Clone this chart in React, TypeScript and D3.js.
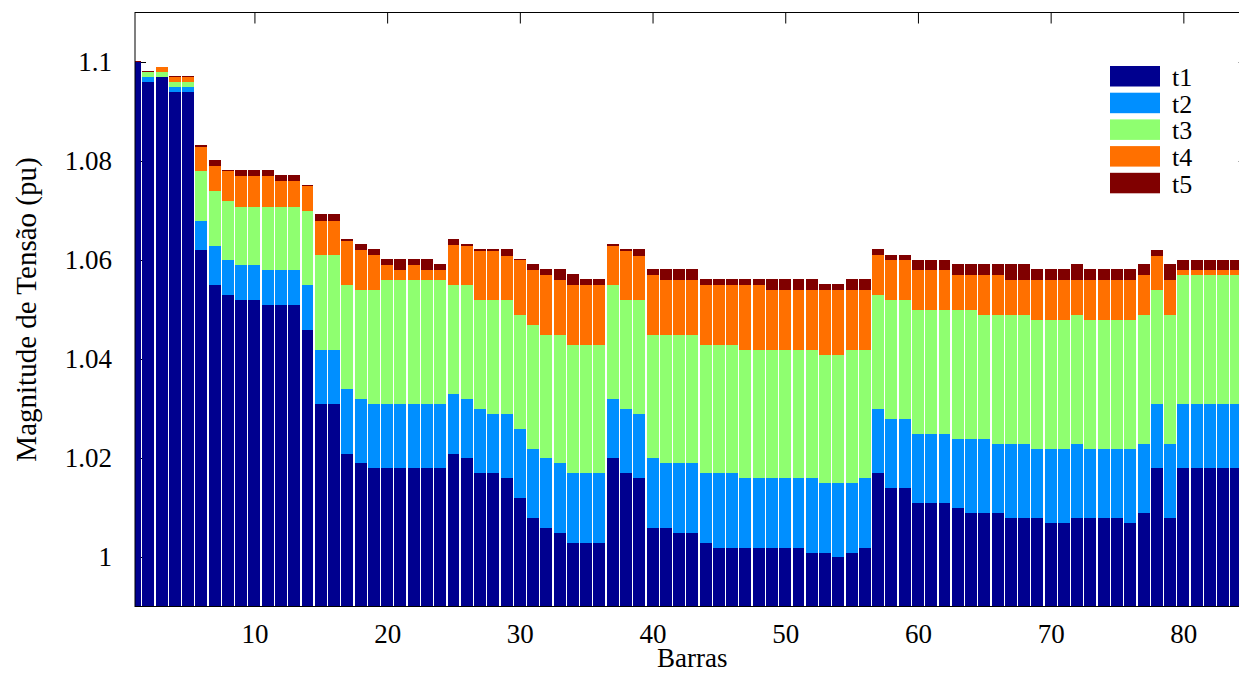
import React, { useEffect, useRef } from 'react';
import * as d3 from 'd3';

// tensões por barra (pu), uma lista por instante
const t1 = [
  1.1000, 1.0959, 1.0969, 1.0939, 1.0939, 1.0620, 1.0550, 1.0530, 1.0519, 1.0519,
  1.0509, 1.0509, 1.0509, 1.0459, 1.0310, 1.0310, 1.0209, 1.0189, 1.0179, 1.0179,
  1.0179, 1.0179, 1.0179, 1.0179, 1.0209, 1.0199, 1.0169, 1.0169, 1.0159, 1.0119,
  1.0079, 1.0059, 1.0049, 1.0028, 1.0028, 1.0028, 1.0199, 1.0169, 1.0159, 1.0059,
  1.0059, 1.0049, 1.0049, 1.0028, 1.0019, 1.0019, 1.0019, 1.0019, 1.0019, 1.0019,
  1.0019, 1.0009, 1.0009, 0.9999, 1.0009, 1.0019, 1.0169, 1.0139, 1.0139, 1.0109,
  1.0109, 1.0109, 1.0099, 1.0089, 1.0089, 1.0089, 1.0079, 1.0079, 1.0079, 1.0069,
  1.0069, 1.0079, 1.0079, 1.0079, 1.0079, 1.0069, 1.0089, 1.0179, 1.0079, 1.0179,
  1.0179, 1.0179, 1.0179, 1.0179,
];
const t2 = [
  1.1000, 1.0969, 1.0969, 1.0949, 1.0949, 1.0679, 1.0629, 1.0600, 1.0590, 1.0590,
  1.0580, 1.0580, 1.0580, 1.0549, 1.0418, 1.0418, 1.0339, 1.0319, 1.0310, 1.0310,
  1.0310, 1.0310, 1.0310, 1.0310, 1.0329, 1.0319, 1.0299, 1.0289, 1.0289, 1.0259,
  1.0219, 1.0199, 1.0189, 1.0169, 1.0169, 1.0169, 1.0319, 1.0299, 1.0289, 1.0199,
  1.0189, 1.0189, 1.0189, 1.0169, 1.0169, 1.0169, 1.0159, 1.0159, 1.0159, 1.0159,
  1.0159, 1.0159, 1.0149, 1.0149, 1.0149, 1.0159, 1.0299, 1.0279, 1.0279, 1.0249,
  1.0249, 1.0249, 1.0239, 1.0239, 1.0239, 1.0229, 1.0229, 1.0229, 1.0219, 1.0219,
  1.0219, 1.0229, 1.0219, 1.0219, 1.0219, 1.0219, 1.0229, 1.0310, 1.0229, 1.0310,
  1.0310, 1.0310, 1.0310, 1.0310,
];
const t3 = [
  1.1000, 1.0979, 1.0979, 1.0959, 1.0959, 1.0779, 1.0740, 1.0719, 1.0708, 1.0708,
  1.0708, 1.0708, 1.0708, 1.0700, 1.0610, 1.0610, 1.0549, 1.0539, 1.0539, 1.0560,
  1.0560, 1.0560, 1.0560, 1.0560, 1.0549, 1.0549, 1.0519, 1.0519, 1.0519, 1.0489,
  1.0469, 1.0448, 1.0448, 1.0429, 1.0429, 1.0429, 1.0549, 1.0519, 1.0519, 1.0448,
  1.0448, 1.0448, 1.0448, 1.0429, 1.0429, 1.0429, 1.0419, 1.0419, 1.0419, 1.0419,
  1.0419, 1.0419, 1.0409, 1.0409, 1.0419, 1.0419, 1.0529, 1.0519, 1.0519, 1.0499,
  1.0499, 1.0499, 1.0499, 1.0499, 1.0489, 1.0489, 1.0489, 1.0489, 1.0479, 1.0479,
  1.0479, 1.0489, 1.0479, 1.0479, 1.0479, 1.0479, 1.0489, 1.0539, 1.0489, 1.0570,
  1.0570, 1.0570, 1.0570, 1.0570,
];
const t4 = [
  1.1000, 1.0980, 1.0989, 1.0969, 1.0969, 1.0829, 1.0789, 1.0779, 1.0769, 1.0769,
  1.0769, 1.0760, 1.0760, 1.0749, 1.0679, 1.0679, 1.0638, 1.0620, 1.0610, 1.0590,
  1.0580, 1.0590, 1.0580, 1.0580, 1.0630, 1.0628, 1.0618, 1.0618, 1.0609, 1.0599,
  1.0579, 1.0570, 1.0560, 1.0549, 1.0549, 1.0549, 1.0629, 1.0619, 1.0609, 1.0570,
  1.0560, 1.0560, 1.0560, 1.0549, 1.0549, 1.0549, 1.0549, 1.0549, 1.0539, 1.0539,
  1.0539, 1.0539, 1.0539, 1.0539, 1.0539, 1.0539, 1.0610, 1.0600, 1.0600, 1.0580,
  1.0580, 1.0580, 1.0570, 1.0570, 1.0570, 1.0570, 1.0560, 1.0560, 1.0560, 1.0560,
  1.0560, 1.0560, 1.0560, 1.0560, 1.0560, 1.0560, 1.0570, 1.0609, 1.0560, 1.0580,
  1.0580, 1.0580, 1.0580, 1.0580,
];
const t5 = [
  1.1003, 1.0981, 1.0990, 1.0971, 1.0971, 1.0832, 1.0802, 1.0782, 1.0781, 1.0781,
  1.0781, 1.0771, 1.0771, 1.0752, 1.0692, 1.0692, 1.0642, 1.0632, 1.0622, 1.0602,
  1.0602, 1.0602, 1.0602, 1.0592, 1.0642, 1.0632, 1.0622, 1.0622, 1.0622, 1.0602,
  1.0592, 1.0582, 1.0582, 1.0572, 1.0562, 1.0562, 1.0632, 1.0622, 1.0622, 1.0582,
  1.0582, 1.0582, 1.0582, 1.0562, 1.0562, 1.0562, 1.0562, 1.0562, 1.0562, 1.0562,
  1.0562, 1.0562, 1.0552, 1.0552, 1.0562, 1.0562, 1.0622, 1.0611, 1.0611, 1.0601,
  1.0601, 1.0601, 1.0591, 1.0591, 1.0591, 1.0591, 1.0591, 1.0591, 1.0581, 1.0581,
  1.0581, 1.0591, 1.0581, 1.0581, 1.0581, 1.0581, 1.0591, 1.0621, 1.0591, 1.0601,
  1.0601, 1.0601, 1.0601, 1.0601,
];

const seriesNames = ['t1', 't2', 't3', 't4', 't5'];
const seriesColors = ['#00008f', '#008fff', '#8fff70', '#ff7000', '#800000'];
const yTicks = [1, 1.02, 1.04, 1.06, 1.08, 1.1];
const xTicks = [10, 20, 30, 40, 50, 60, 70, 80];

const FONT = '"Liberation Serif", "Times New Roman", serif';

const App: React.FC = () => {
  const svgRef = useRef<SVGSVGElement | null>(null);

  useEffect(() => {
    const W = 1239, H = 673;
    const left = 135, right = 1249.7, top = 12.5, bottom = 606.5;

    const svg = d3.select(svgRef.current)
      .attr('width', W)
      .attr('height', H)
      .style('background-color', 'white');
    svg.selectAll('*').remove();

    const x = d3.scaleLinear().domain([1, 85]).range([left, right]);
    const y = d3.scaleLinear().domain([0.99, 1.11]).range([bottom, top]);

    // ticks (ficam por baixo das barras, como no matlab)
    const styleAxis = (g: any) => {
      g.select('.domain').remove();
      g.selectAll('line').attr('stroke', '#000');
      g.selectAll('text')
        .attr('font-family', FONT)
        .attr('font-size', 27)
        .attr('fill', '#000');
    };

    svg.append('g')
      .attr('transform', `translate(0,${bottom})`)
      .call(d3.axisBottom(x).tickValues(xTicks).tickSize(-11).tickSizeOuter(0).tickPadding(17).tickFormat(d3.format('d')))
      .call(styleAxis);

    svg.append('g')
      .attr('transform', `translate(0,${top})`)
      .call(d3.axisTop(x).tickValues(xTicks).tickSize(-11).tickSizeOuter(0).tickFormat(() => ''))
      .call(styleAxis);

    svg.append('g')
      .attr('transform', `translate(${left},0)`)
      .call(d3.axisLeft(y).tickValues(yTicks).tickSize(-11).tickSizeOuter(0).tickPadding(23)
        .tickFormat((d: any) => String(+(+d).toFixed(2))))
      .call(styleAxis);

    svg.append('g')
      .attr('transform', `translate(${right},0)`)
      .call(d3.axisRight(y).tickValues(yTicks).tickSize(-11).tickSizeOuter(0).tickFormat(() => ''))
      .call(styleAxis);

    svg.append('clipPath')
      .attr('id', 'plot-clip')
      .append('rect')
      .attr('x', left)
      .attr('y', top)
      .attr('width', right - left)
      .attr('height', bottom - top);

    const all = [t1, t2, t3, t4, t5];
    const bw = (x(2) - x(1)) * 0.9;
    const bars = svg.append('g')
      .attr('clip-path', 'url(#plot-clip)')
      .attr('shape-rendering', 'crispEdges');

    // desenha do t5 para o t1, cada barra saindo da base
    for (let s = all.length - 1; s >= 0; s--) {
      bars.append('g')
        .selectAll('rect')
        .data(all[s])
        .enter()
        .append('rect')
        .attr('x', (_d: number, i: number) => x(i + 1) - bw / 2)
        .attr('width', bw)
        .attr('y', (d: number) => y(d))
        .attr('height', (d: number) => bottom - y(d))
        .attr('fill', seriesColors[s]);
    }

    // caixa dos eixos
    svg.append('rect')
      .attr('x', left)
      .attr('y', top)
      .attr('width', right - left)
      .attr('height', bottom - top)
      .attr('fill', 'none')
      .attr('stroke', '#000')
      .attr('stroke-width', 1);

    svg.append('text')
      .attr('x', (left + right) / 2)
      .attr('y', 667)
      .attr('text-anchor', 'middle')
      .attr('font-family', FONT)
      .attr('font-size', 27)
      .text('Barras');

    svg.append('text')
      .attr('transform', `translate(36,${(top + bottom) / 2}) rotate(-90)`)
      .attr('text-anchor', 'middle')
      .attr('font-family', FONT)
      .attr('font-size', 29)
      .text('Magnitude de Tensão (pu)');

    // legenda
    const legend = svg.append('g').attr('transform', 'translate(1110,66)');
    seriesNames.forEach((name, i) => {
      legend.append('rect')
        .attr('x', 0)
        .attr('y', i * 26.7)
        .attr('width', 50)
        .attr('height', 20.5)
        .attr('fill', seriesColors[i]);
      legend.append('text')
        .attr('x', 62)
        .attr('y', i * 26.7 + 20)
        .attr('font-family', FONT)
        .attr('font-size', 26)
        .text(name);
    });
  }, []);

  return (
    <div style={{ position: 'absolute', left: 0, top: 0 }}>
      <svg ref={svgRef} style={{ display: 'block' }}></svg>
    </div>
  );
};

export default App;
